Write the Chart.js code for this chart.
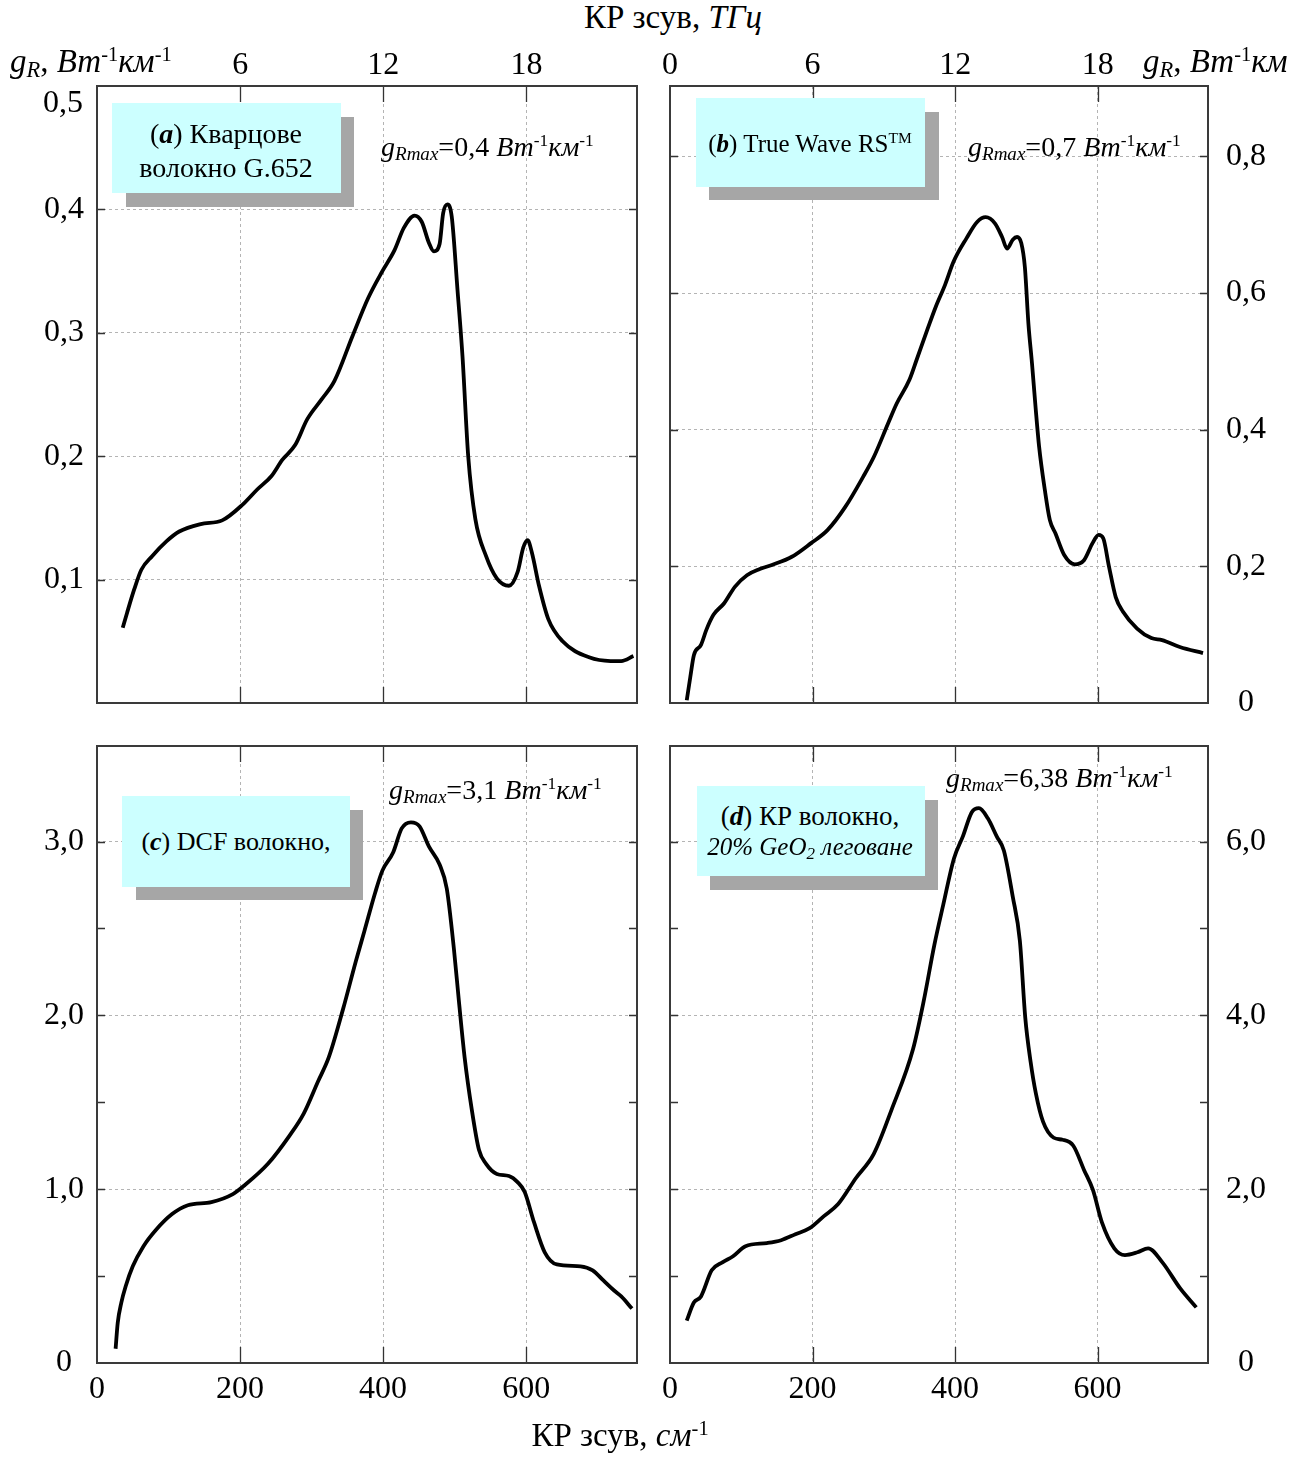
<!DOCTYPE html>
<html>
<head>
<meta charset="utf-8">
<script src="https://cdn.jsdelivr.net/npm/chart.js@4.4.0/dist/chart.umd.min.js"></script>
<style>
  body { margin: 0; background: #fff; }
  #page { position: relative; width: 1304px; height: 1457px; overflow: hidden; font-family: "Liberation Serif", "Times New Roman", serif; color: #000; }
  canvas { position: absolute; }
  .t { position: absolute; white-space: nowrap; line-height: 1; z-index: 5; }
  .box { position: absolute; background: #ccffff; z-index: 4; }
  .shadow { position: absolute; background: #a6a6a6; z-index: 3; }
  sup { font-size: 0.62em; vertical-align: 0.55em; line-height: 0; }
  sub { font-size: 0.68em; vertical-align: -0.22em; line-height: 0; }
</style>
</head>
<body>
<div id="page">
  <canvas id="ca" width="733" height="733" style="left:0;top:40px"></canvas>
  <canvas id="cb" width="731" height="733" style="left:573px;top:40px"></canvas>
  <canvas id="cc" width="733" height="757" style="left:0;top:700px"></canvas>
  <canvas id="cd" width="731" height="757" style="left:573px;top:700px"></canvas>
</div>
<script>
// Raman shift, cm^-1, and Raman gain for each fibre
const shiftA = [36, 42, 52, 62, 77, 97, 115, 145, 175, 204, 224, 244, 259, 277, 294, 314, 332, 357, 379, 399,
  416, 429, 444, 454, 464, 471, 479, 484, 490, 496, 504, 511, 519, 529, 544, 559, 576, 588, 596, 602,
  608, 618, 631, 651, 688, 718, 733, 750];
const gainA = [0.061, 0.073, 0.092, 0.108, 0.119, 0.131, 0.139, 0.145, 0.148, 0.161, 0.173, 0.184, 0.197, 0.209, 0.230, 0.246, 0.261, 0.297, 0.328, 0.350,
  0.367, 0.385, 0.395, 0.390, 0.373, 0.366, 0.372, 0.397, 0.404, 0.394, 0.335, 0.281, 0.200, 0.149, 0.119, 0.101, 0.095, 0.106, 0.126, 0.132,
  0.122, 0.095, 0.068, 0.050, 0.037, 0.034, 0.034, 0.038];

const shiftB = [23.5, 28.5, 33.5, 43.5, 51, 61, 76, 91, 108, 126, 143, 171, 198, 221, 246, 271, 286, 306, 318, 336,
  346, 361, 373, 386, 398, 416, 431, 443, 456, 466, 473, 481, 487, 493, 498, 503, 508, 513, 518, 526,
  533, 541, 553, 568, 581, 593, 601.5, 608, 616, 625.5, 635.5, 655.5, 675.5, 690.5, 715.5, 748];
const gainB = [0.004, 0.038, 0.070, 0.085, 0.107, 0.129, 0.146, 0.170, 0.187, 0.196, 0.202, 0.214, 0.234, 0.253, 0.287, 0.331, 0.360, 0.409, 0.438, 0.473,
  0.502, 0.546, 0.580, 0.612, 0.646, 0.680, 0.704, 0.711, 0.702, 0.682, 0.665, 0.678, 0.682, 0.673, 0.638, 0.555, 0.497, 0.433, 0.375, 0.312,
  0.268, 0.248, 0.217, 0.203, 0.209, 0.234, 0.246, 0.241, 0.200, 0.155, 0.134, 0.109, 0.095, 0.092, 0.082, 0.073];

const shiftC = [26, 29, 34, 40, 50, 65, 82, 105, 127, 160, 190, 205, 239, 269, 289, 309, 324, 344, 362, 374,
  389, 399, 414, 426, 439, 451, 464, 479, 489, 499, 506, 514, 524, 534, 544, 559, 576, 588, 598, 611,
  626, 643, 676, 693, 708, 723, 733, 748];
const gainC = [0.082, 0.232, 0.347, 0.440, 0.556, 0.672, 0.764, 0.857, 0.908, 0.926, 0.972, 1.018, 1.146, 1.307, 1.435, 1.620, 1.758, 2.036, 2.313, 2.487,
  2.707, 2.833, 2.937, 3.076, 3.111, 3.088, 2.972, 2.868, 2.730, 2.383, 2.082, 1.758, 1.458, 1.227, 1.146, 1.088, 1.076, 1.041, 0.984, 0.810,
  0.637, 0.567, 0.556, 0.533, 0.475, 0.417, 0.383, 0.313];

const shiftD = [23.5, 33.5, 43.5, 58.5, 73.5, 88.5, 106, 136, 156, 176, 196, 216, 236, 261, 286, 311, 341, 356, 371, 383.5,
  398.5, 411, 423.5, 433.5, 446, 458.5, 468.5, 481, 491, 498.5, 506, 513.5, 523.5, 538.5, 551, 566, 581, 593.5, 606, 623.5,
  638.5, 656, 671, 691, 716, 738.5];
const gainD = [0.488, 0.696, 0.766, 1.066, 1.158, 1.228, 1.344, 1.380, 1.413, 1.482, 1.551, 1.690, 1.829, 2.129, 2.407, 2.916, 3.610, 4.164, 4.812, 5.274,
  5.806, 6.060, 6.338, 6.384, 6.268, 6.060, 5.898, 5.367, 4.858, 3.979, 3.470, 3.100, 2.777, 2.592, 2.569, 2.500, 2.222, 1.991, 1.621, 1.320,
  1.242, 1.274, 1.320, 1.158, 0.858, 0.640];

// axis ranges / steps
const xMax = 755;            // cm^-1 at right edge
const cmPerTHz = 33.356;
const cmStep = 200;
const thzStep = 6;

Chart.defaults.font.family = '"Liberation Serif", "Times New Roman", serif';
Chart.defaults.font.size = 32;
Chart.defaults.color = '#000';

const GRID = '#b4b4b4';

function comma(v) {
  return v.toFixed(1).replace('.', ',');
}

// frame with inward ticks, like the original plotting program
const framePlugin = {
  id: 'frame',
  afterDatasetsDraw(chart) {
    const { ctx, chartArea: { left, right, top, bottom }, scales: { x, y } } = chart;
    ctx.save();
    ctx.strokeStyle = '#333';
    ctx.lineWidth = 1.3;
    ctx.beginPath();
    x.ticks.forEach(t => {
      const px = Math.round(x.getPixelForValue(t.value)) + 0.5;
      if (px - left < 4 || right - px < 4) return;
      ctx.moveTo(px, bottom); ctx.lineTo(px, bottom - 16);
      ctx.moveTo(px, top); ctx.lineTo(px, top + 16);
    });
    y.ticks.forEach(t => {
      const py = Math.round(y.getPixelForValue(t.value)) + 0.5;
      if (py - top < 10 || bottom - py < 4) return;
      ctx.moveTo(left, py); ctx.lineTo(left + 8, py);
      ctx.moveTo(right, py); ctx.lineTo(right - 8, py);
    });
    ctx.stroke();
    ctx.lineWidth = 2;
    ctx.strokeStyle = '#3a3a3a';
    ctx.strokeRect(left, top, right - left, bottom - top);
    ctx.restore();
  }
};

function panel(id, o) {
  const left = o.side === 'left';
  const isMajor = v => Math.abs(v / o.yMajor - Math.round(v / o.yMajor)) < 1e-6;
  const scales = {
    x: {
      type: 'linear', position: 'bottom', min: 0, max: xMax,
      afterFit: s => { s.height = o.bottomLabels ? 60 : 0; },
      ticks: { display: o.bottomLabels, stepSize: cmStep, includeBounds: false, padding: 7, maxRotation: 0, autoSkip: false },
      grid: { color: GRID, lineWidth: 1, drawTicks: false },
      border: { display: false, dash: [3, 3] }
    },
    y: {
      type: 'linear', position: o.side, min: 0, max: o.yMax,
      afterFit: s => { s.width = left ? 97 : 96; },
      ticks: {
        stepSize: o.yStep, includeBounds: false, padding: left ? 13 : 18, crossAlign: 'center', autoSkip: false,
        callback: v => {
          if (Math.abs(v) < 1e-9) return o.showZero ? '0' : '';
          if (o.hideTop && Math.abs(v - o.yMax) < 1e-9) return '';   // drawn lower, below the title
          return isMajor(v) ? comma(v) : '';
        }
      },
      grid: { color: c => isMajor(c.tick.value) ? GRID : 'rgba(0,0,0,0)', lineWidth: 1, drawTicks: false },
      border: { display: false, dash: [3, 3] }
    }
  };
  if (o.topAxis) {
    scales.x2 = {
      type: 'linear', position: 'top', min: 0, max: xMax / cmPerTHz,
      afterFit: s => { s.height = 46; },
      ticks: {
        stepSize: thzStep, includeBounds: false, padding: 4, maxRotation: 0, autoSkip: false,
        font: { size: 32, lineHeight: 1 },
        callback: v => (v === 0 && !o.topZero) ? '' : String(v)
      },
      grid: { drawOnChartArea: false, drawTicks: false },
      border: { display: false }
    };
  }
  const pad = {
    left: left ? 0 : 97,
    right: left ? 96 : 0,
    top: o.topAxis ? 0 : 46,
    bottom: o.bottomLabels ? 34 : 70
  };
  return new Chart(document.getElementById(id), {
    type: 'line',
    data: {
      datasets: [{
        data: o.shift.map((s, i) => ({ x: s, y: o.gain[i] })),
        borderColor: '#000',
        borderWidth: 3.8,
        pointRadius: 0,
        fill: false,
        cubicInterpolationMode: 'monotone'
      }]
    },
    options: {
      responsive: false,
      animation: false,
      layout: { padding: pad, autoPadding: false },
      plugins: { legend: { display: false }, tooltip: { enabled: false } },
      scales
    },
    plugins: [framePlugin]
  });
}

panel('ca', { shift: shiftA, gain: gainA, yMax: 0.5, yStep: 0.1, yMajor: 0.1, side: 'left', topAxis: true, topZero: false, bottomLabels: false, showZero: false, hideTop: true });
panel('cb', { shift: shiftB, gain: gainB, yMax: 0.903, yStep: 0.2, yMajor: 0.2, side: 'right', topAxis: true, topZero: true, bottomLabels: false, showZero: true });
panel('cc', { shift: shiftC, gain: gainC, yMax: 3.55, yStep: 0.5, yMajor: 1, side: 'left', topAxis: false, bottomLabels: true, showZero: true });
panel('cd', { shift: shiftD, gain: gainD, yMax: 7.1, yStep: 1, yMajor: 2, side: 'right', topAxis: false, bottomLabels: true, showZero: true });

// titles and annotation boxes
const page = document.getElementById('page');
function txt(html, x, base, size, align) {
  const d = document.createElement('div');
  d.className = 't';
  d.innerHTML = html;
  d.style.fontSize = size + 'px';
  d.style.top = (base - 0.84 * size) + 'px';
  d.style.left = x + 'px';
  if (align === 'center') d.style.transform = 'translateX(-50%)';
  page.appendChild(d);
}
function rect(cls, x1, y1, x2, y2) {
  const d = document.createElement('div');
  d.className = cls;
  Object.assign(d.style, { left: x1 + 'px', top: y1 + 'px', width: (x2 - x1) + 'px', height: (y2 - y1) + 'px' });
  page.appendChild(d);
}
const unit = '<i>Вт</i><sup>-1</sup><i>км</i><sup>-1</sup>';
const gmax = v => '<i>g</i><sub><i>Rmax</i></sub>=' + v + ' ' + unit;

txt('КР зсув, <i>ТГц</i>', 673, 29, 33, 'center');
txt('<i>g</i><sub><i>R</i></sub>, ' + unit, 10, 73, 33, 'left');
txt('<i>g</i><sub><i>R</i></sub>, <i>Вт</i><sup>-1</sup><i>км</i>', 1143, 73, 33, 'left');
txt('0,5', 63, 112, 32, 'center');
txt('КР зсув, <i>см</i><sup>-1</sup>', 620, 1447, 33, 'center');

rect('shadow', 126, 117, 354, 207);
rect('box', 112, 103, 341, 193);
txt('(<b><i>a</i></b>) Кварцове', 226, 144, 28, 'center');
txt('волокно G.652', 226, 178, 28, 'center');
txt(gmax('0,4'), 381, 157, 28, 'left');

rect('shadow', 709, 112, 939, 200);
rect('box', 696, 98, 925, 187);
txt('(<b><i>b</i></b>) True Wave RS<sup>TM</sup>', 810, 152, 25, 'center');
txt(gmax('0,7'), 968, 157, 28, 'left');

rect('shadow', 136, 810, 363, 900);
rect('box', 122, 796, 350, 887);
txt('(<b><i>c</i></b>) DCF волокно,', 236, 851, 26, 'center');
txt(gmax('3,1'), 389, 800, 28, 'left');

rect('shadow', 710, 800, 938, 890);
rect('box', 697, 786, 925, 876);
txt('(<b><i>d</i></b>) КР волокно,', 810, 826, 27, 'center');
txt('<i>20% GeO<sub>2</sub> леговане</i>', 810, 855, 25, 'center');
txt(gmax('6,38'), 946, 788, 28, 'left');
</script>
</body>
</html>
